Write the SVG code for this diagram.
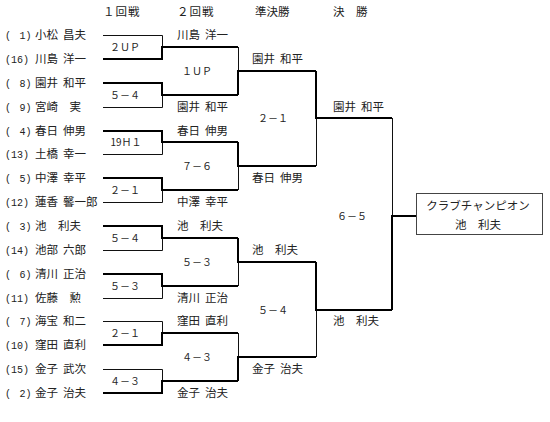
<svg xmlns="http://www.w3.org/2000/svg" width="550" height="422" viewBox="0 0 550 422">
<style>
text{font-family:"Noto Sans CJK JP","Noto Sans CJK SC",sans-serif;font-size:11.5px;fill:#222;word-spacing:2.5px}
.num{font-family:"Liberation Mono","DejaVu Sans Mono",monospace;font-size:10px}
.sc{font-size:10px;text-anchor:middle}
.hd{font-size:11.5px}
.thin{fill:none;stroke:#111;stroke-width:1}
.thick{fill:none;stroke:#000;stroke-width:2}
.box{fill:#fff;stroke:#444;stroke-width:1}
.ct{text-anchor:middle}
</style>
<rect width="550" height="422" fill="#fff"/>
<g id="headers">
<text class="hd" x="103" y="16" letter-spacing="1">１回戦</text>
<text class="hd" x="177" y="16" letter-spacing="1">２回戦</text>
<text class="hd" x="255" y="16">準決勝</text>
<text class="hd" x="333" y="16">決　勝</text>
</g>
<g id="connectors">
<!-- round 1 losers -->
<path class="thin" d="M103,35.5H162.5V47 M103,107.5H162.5V95 M103,154.5H162.5V142 M103,202.5H162.5V190 M103,250.5H162.5V238 M103,298.5H162.5V286 M103,321.5H162.5V333 M103,369.5H162.5V381"/>
<!-- round 1 winners to round 2 -->
<path class="thick" d="M103,59H162V47H238 M103,83H162V95H238 M103,131H162V142H238 M103,178H162V190H238 M103,226H162V238H238 M103,274H162V286H238 M103,345H162V333H238 M103,393H162V381H238"/>
<!-- round 2 -->
<path class="thin" d="M238.5,47V71 M238.5,190V166 M238.5,286V262 M238.5,333V357"/>
<path class="thick" d="M238,95V71H316 M238,142V166H316 M238,238V262H316 M238,381V357H316"/>
<!-- semifinal -->
<path class="thin" d="M316.5,166V118 M316.5,357V310"/>
<path class="thick" d="M316,71V118H392 M316,262V310H392"/>
<!-- final -->
<path class="thin" d="M392.5,118V216"/>
<path class="thick" d="M392,310V216H416"/>
</g>
<g id="players">
<g id="p1"><text x="5" y="39"><tspan class="num">(&#160;1)</tspan><tspan x="35">小松 昌夫</tspan></text></g>
<g id="p16"><text x="5" y="63"><tspan class="num">(16)</tspan><tspan x="35">川島 洋一</tspan></text></g>
<g id="p8"><text x="5" y="87"><tspan class="num">(&#160;8)</tspan><tspan x="35">園井 和平</tspan></text></g>
<g id="p9"><text x="5" y="111"><tspan class="num">(&#160;9)</tspan><tspan x="35">宮崎　実</tspan></text></g>
<g id="p4"><text x="5" y="135"><tspan class="num">(&#160;4)</tspan><tspan x="35">春日 伸男</tspan></text></g>
<g id="p13"><text x="5" y="158"><tspan class="num">(13)</tspan><tspan x="35">土橋 幸一</tspan></text></g>
<g id="p5"><text x="5" y="182"><tspan class="num">(&#160;5)</tspan><tspan x="35">中澤 幸平</tspan></text></g>
<g id="p12"><text x="5" y="206"><tspan class="num">(12)</tspan><tspan x="35">蓮香 馨一郎</tspan></text></g>
<g id="p3"><text x="5" y="230"><tspan class="num">(&#160;3)</tspan><tspan x="35">池　利夫</tspan></text></g>
<g id="p14"><text x="5" y="254"><tspan class="num">(14)</tspan><tspan x="35">池部 六郎</tspan></text></g>
<g id="p6"><text x="5" y="278"><tspan class="num">(&#160;6)</tspan><tspan x="35">清川 正治</tspan></text></g>
<g id="p11"><text x="5" y="302"><tspan class="num">(11)</tspan><tspan x="35">佐藤　勲</tspan></text></g>
<g id="p7"><text x="5" y="325"><tspan class="num">(&#160;7)</tspan><tspan x="35">海宝 和二</tspan></text></g>
<g id="p10"><text x="5" y="349"><tspan class="num">(10)</tspan><tspan x="35">窪田 直利</tspan></text></g>
<g id="p15"><text x="5" y="373"><tspan class="num">(15)</tspan><tspan x="35">金子 武次</tspan></text></g>
<g id="p2"><text x="5" y="397"><tspan class="num">(&#160;2)</tspan><tspan x="35">金子 治夫</tspan></text></g>
</g>
<g id="round2-names">
<text x="177" y="39">川島 洋一</text>
<text x="177" y="111">園井 和平</text>
<text x="177" y="135">春日 伸男</text>
<text x="177" y="206">中澤 幸平</text>
<text x="177" y="230">池　利夫</text>
<text x="177" y="302">清川 正治</text>
<text x="177" y="325">窪田 直利</text>
<text x="177" y="397">金子 治夫</text>
</g>
<g id="semi-names">
<text x="252" y="63">園井 和平</text>
<text x="252" y="182">春日 伸男</text>
<text x="252" y="254">池　利夫</text>
<text x="252" y="373">金子 治夫</text>
</g>
<g id="final-names">
<text x="333" y="111">園井 和平</text>
<text x="333" y="325">池　利夫</text>
</g>
<g id="scores">
<text class="sc" x="125" y="51">２ＵＰ</text>
<text class="sc" x="125" y="99">５－４</text>
<text class="sc" x="126" y="146">19Ｈ１</text>
<text class="sc" x="125" y="194">２－１</text>
<text class="sc" x="125" y="242">５－４</text>
<text class="sc" x="125" y="290">５－３</text>
<text class="sc" x="125" y="337">２－１</text>
<text class="sc" x="125" y="385">４－３</text>
<text class="sc" x="197" y="75">１ＵＰ</text>
<text class="sc" x="197" y="170">７－６</text>
<text class="sc" x="197" y="266">５－３</text>
<text class="sc" x="197" y="361">４－３</text>
<text class="sc" x="273" y="122">２－１</text>
<text class="sc" x="273" y="314">５－４</text>
<text class="sc" x="352" y="220">６－５</text>
</g>
<g id="champion">
<rect class="box" x="416.5" y="193.5" width="126" height="41"/>
<text class="ct" x="478" y="210">クラブチャンピオン</text>
<text class="ct" x="478" y="229">池　利夫</text>
</g>
</svg>
